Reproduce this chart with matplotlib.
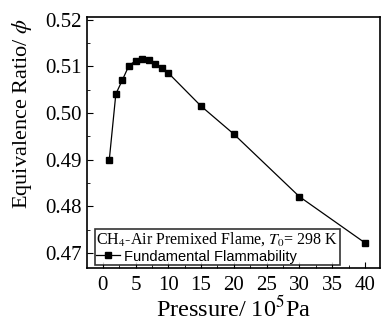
import matplotlib
matplotlib.use("Agg")
import matplotlib.pyplot as plt
from matplotlib.ticker import MultipleLocator

pressure = [1, 2, 3, 4, 5, 6, 7, 8, 9, 10, 15, 20, 30, 40]
phi = [0.4900, 0.5041, 0.5071, 0.5102, 0.5112, 0.5116, 0.5113, 0.5105,
       0.5096, 0.5086, 0.5015, 0.4955, 0.4821, 0.4722]

plt.rcParams["font.family"] = ["Liberation Serif", "DejaVu Serif"]
plt.rcParams["mathtext.fontset"] = "stix"

fig = plt.figure(figsize=(3.82, 3.25), dpi=100)
ax = fig.add_axes([87 / 382, 1 - 268 / 325, 293 / 382, 251 / 325])

ax.plot(pressure, phi, "-s", color="black", lw=0.9, ms=4.5,
        label="Fundamental Flammability")

ax.set_xlim(-2.4, 42.3)
ax.set_ylim(0.4668, 0.5206)
ax.xaxis.set_major_locator(MultipleLocator(5))
ax.xaxis.set_minor_locator(MultipleLocator(2.5))
ax.yaxis.set_major_locator(MultipleLocator(0.01))
ax.yaxis.set_minor_locator(MultipleLocator(0.005))
ax.yaxis.set_major_formatter(plt.FormatStrFormatter("%.2f"))
ax.tick_params(which="both", direction="in", labelsize=15)
ax.tick_params(which="major", length=4)
ax.tick_params(which="minor", length=2.5)
ax.tick_params(axis="x", pad=6)
for s in ax.spines.values():
    s.set_linewidth(1.2)

ax.set_xlabel("Pressure/ 10$^5$Pa", fontsize=17.5, labelpad=0)
ax.set_ylabel("Equivalence Ratio/ $\\phi$", fontsize=16)
ax.yaxis.set_label_coords(-0.18, 0.615)

leg = ax.legend(loc="lower left", bbox_to_anchor=(0.027, 0.012),
                title="CH$_4$-Air Premixed Flame, $T_0$= 298 K",
                title_fontsize=11.5, frameon=True, fancybox=False,
                edgecolor="black", borderaxespad=0, borderpad=0.1,
                handlelength=1.6, handletextpad=0.3, alignment="left",
                labelspacing=0.1, prop={"family": "Liberation Sans", "size": 10.5})
leg.get_frame().set_linewidth(1.2)
leg._legend_box.sep = 1

fig.savefig("out.png", dpi=100)
